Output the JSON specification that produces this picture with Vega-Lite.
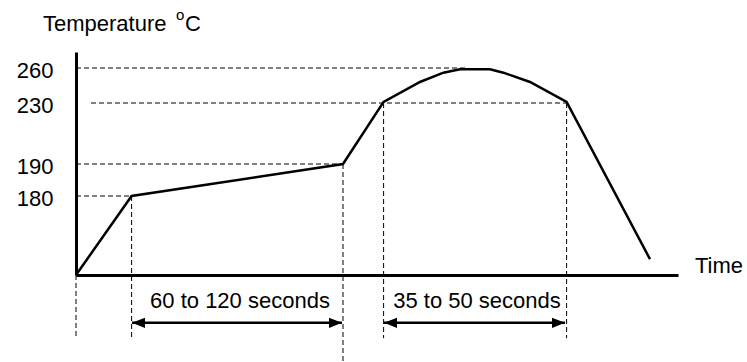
{
  "$schema": "https://vega.github.io/schema/vega-lite/v6.json",
  "width": 602,
  "height": 223,
  "autosize": {"type": "none"},
  "padding": {"left": 76, "top": 52, "right": 69, "bottom": 87},
  "background": "white",
  "config": {
    "view": {"stroke": null},
    "font": "Liberation Sans",
    "axisY": {"domain": true, "domainColor": "black", "domainWidth": 3, "ticks": false, "tickSize": 0, "grid": false, "labelFontSize": 22, "labelFont": "Liberation Sans", "labelColor": "black", "labelPadding": 23, "labelOffset": 2},
    "axisX": {"domain": true, "domainColor": "black", "domainWidth": 3, "ticks": false, "tickSize": 0, "grid": false, "labels": false}
  },
  "datasets": {
    "curve": [
      {"t": 0, "temp": 0},
      {"t": 27.8, "temp": 180},
      {"t": 133.5, "temp": 190},
      {"t": 153.8, "temp": 231},
      {"t": 172, "temp": 248},
      {"t": 183.7, "temp": 256},
      {"t": 192, "temp": 259},
      {"t": 207, "temp": 259},
      {"t": 213.7, "temp": 256},
      {"t": 227, "temp": 248},
      {"t": 245.3, "temp": 231},
      {"t": 287, "temp": 36}
    ],
    "hguides": [
      {"t0": 0, "t1": 195, "temp": 260},
      {"t0": 7.5, "t1": 245.3, "temp": 230},
      {"t0": 0, "t1": 133.5, "temp": 190},
      {"t0": 0, "t1": 27.8, "temp": 180}
    ],
    "vguides": [
      {"t": 0, "top": 0, "bottom": -141},
      {"t": 27.8, "top": 180, "bottom": -148},
      {"t": 133.5, "top": 190, "bottom": -199},
      {"t": 153.8, "top": 230, "bottom": -144},
      {"t": 245.3, "top": 230, "bottom": -144}
    ],
    "spans": [
      {"start": 28, "end": 133, "temp": -109, "label": "60 to 120 seconds", "mid": 82, "labelTemp": -59},
      {"start": 154, "end": 244.5, "temp": -109, "label": "35 to 50 seconds", "mid": 200.5, "labelTemp": -59}
    ],
    "heads": [
      {"t": 28, "temp": -109, "dir": "left"},
      {"t": 133, "temp": -109, "dir": "right"},
      {"t": 154, "temp": -109, "dir": "left"},
      {"t": 244.5, "temp": -109, "dir": "right"}
    ],
    "texts": [
      {"text": "Temperature", "t": -16.5, "temp": 294.7},
      {"text": "C", "t": 54.5, "temp": 294.7},
      {"text": "Time", "t": 309.5, "temp": 4.6}
    ],
    "sup": [
      {"text": "o", "t": 50, "temp": 305}
    ]
  },
  "layer": [
    {
      "data": {"name": "curve"},
      "mark": {"type": "line", "color": "black", "strokeWidth": 2.5, "clip": false},
      "encoding": {
        "x": {"field": "t", "type": "quantitative", "title": null, "scale": {"domain": [0, 301], "nice": false, "zero": false}},
        "y": {"field": "temp", "type": "quantitative", "title": null, "scale": {"domain": [0, 180, 190, 230, 260, 275], "range": [223, 144, 112, 51, 16, 0], "nice": false, "zero": false}, "axis": {"values": [180, 190, 230, 260]}}
      }
    },
    {
      "data": {"name": "hguides"},
      "mark": {"type": "rule", "color": "black", "strokeWidth": 1, "strokeDash": [5, 3]},
      "encoding": {
        "x": {"field": "t0", "type": "quantitative", "title": null},
        "x2": {"field": "t1"},
        "y": {"field": "temp", "type": "quantitative", "title": null}
      }
    },
    {
      "data": {"name": "vguides"},
      "mark": {"type": "rule", "color": "black", "strokeWidth": 1, "strokeDash": [5, 3]},
      "encoding": {
        "x": {"field": "t", "type": "quantitative", "title": null},
        "y": {"field": "top", "type": "quantitative", "title": null},
        "y2": {"field": "bottom"}
      }
    },
    {
      "data": {"name": "spans"},
      "mark": {"type": "rule", "color": "black", "strokeWidth": 2.5},
      "encoding": {
        "x": {"field": "start", "type": "quantitative", "title": null},
        "x2": {"field": "end"},
        "y": {"field": "temp", "type": "quantitative", "title": null}
      }
    },
    {
      "data": {"name": "heads"},
      "mark": {"type": "point", "filled": true, "color": "black", "size": 676, "opacity": 1, "strokeWidth": 0},
      "encoding": {
        "x": {"field": "t", "type": "quantitative", "title": null},
        "y": {"field": "temp", "type": "quantitative", "title": null},
        "shape": {"field": "dir", "type": "nominal", "legend": null, "scale": {"domain": ["left", "right"], "range": ["M0,0L1,-0.4L1,0.4Z", "M0,0L-1,-0.4L-1,0.4Z"]}}
      }
    },
    {
      "data": {"name": "spans"},
      "mark": {"type": "text", "fontSize": 22, "font": "Liberation Sans", "color": "black", "align": "center", "baseline": "middle"},
      "encoding": {
        "x": {"field": "mid", "type": "quantitative", "title": null},
        "y": {"field": "labelTemp", "type": "quantitative", "title": null},
        "text": {"field": "label"}
      }
    },
    {
      "data": {"name": "texts"},
      "mark": {"type": "text", "fontSize": 22, "font": "Liberation Sans", "color": "black", "align": "left", "baseline": "alphabetic"},
      "encoding": {
        "x": {"field": "t", "type": "quantitative", "title": null},
        "y": {"field": "temp", "type": "quantitative", "title": null},
        "text": {"field": "text"}
      }
    },
    {
      "data": {"name": "sup"},
      "mark": {"type": "text", "fontSize": 15, "font": "Liberation Sans", "color": "black", "align": "left", "baseline": "alphabetic"},
      "encoding": {
        "x": {"field": "t", "type": "quantitative", "title": null},
        "y": {"field": "temp", "type": "quantitative", "title": null},
        "text": {"field": "text"}
      }
    }
  ]
}
